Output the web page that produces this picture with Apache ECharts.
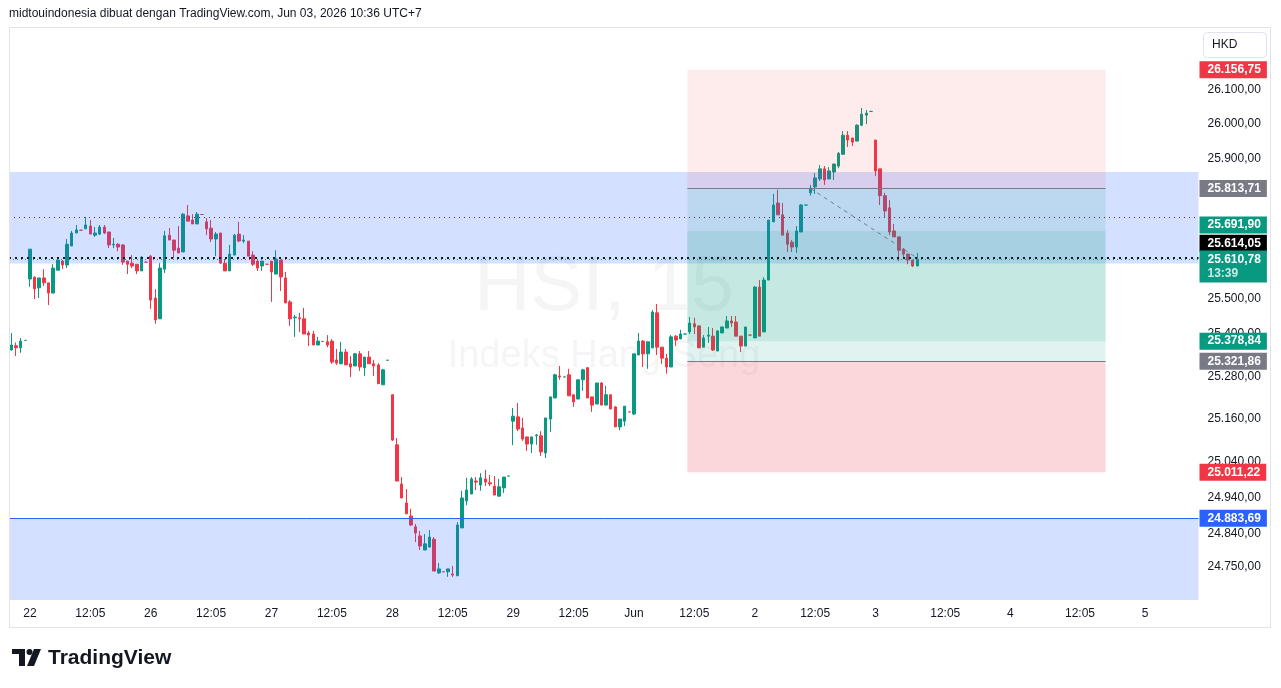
<!DOCTYPE html>
<html>
<head>
<meta charset="utf-8">
<title>HSI, 15</title>
<script src="https://cdn.jsdelivr.net/npm/echarts@6/dist/echarts.min.js"></script>
<style>
  html, body { margin: 0; padding: 0; background: #fff; }
  #chart { width: 1281px; height: 688px; }
</style>
</head>
<body>
<div id="chart"></div>
<script>
// 15 minute candles, [open, close, low, high]
const may21 = [
  [25354, 25368, 25352, 25402], [25366, 25360, 25337, 25375], [25360, 25379, 25346, 25388], [25381, 25381, 25381, 25381]
];
const may22 = [
  [25555, 25640, 25533, 25640], [25560, 25527, 25498, 25563], [25530, 25558, 25501, 25558], [25558, 25544, 25535, 25583],
  [25544, 25515, 25481, 25544], [25515, 25586, 25515, 25597], [25580, 25609, 25580, 25614], [25606, 25595, 25583, 25609],
  [25595, 25654, 25586, 25669], [25649, 25686, 25649, 25692], [25686, 25695, 25686, 25709], [25694, 25694, 25694, 25694],
  [25698, 25709, 25698, 25732], [25706, 25683, 25683, 25723], [25680, 25686, 25675, 25703], [25683, 25703, 25680, 25709],
  [25703, 25686, 25683, 25709], [25689, 25652, 25643, 25689], [25652, 25654, 25643, 25672], [25654, 25646, 25634, 25657],
  [25652, 25603, 25595, 25654], [25606, 25597, 25569, 25606], [25600, 25592, 25586, 25623], [25597, 25578, 25569, 25597],
  [25578, 25617, 25578, 25620], [25603, 25603, 25603, 25603]
];
const may26 = [
  [25620, 25495, 25470, 25623], [25501, 25439, 25428, 25526], [25442, 25586, 25442, 25600], [25583, 25678, 25572, 25692],
  [25680, 25666, 25666, 25700], [25666, 25637, 25614, 25666], [25643, 25629, 25629, 25706], [25632, 25740, 25632, 25743],
  [25735, 25720, 25720, 25766], [25723, 25712, 25712, 25740], [25712, 25740, 25712, 25746], [25739, 25739, 25739, 25739],
  [25718, 25698, 25680, 25729], [25700, 25669, 25660, 25723], [25669, 25683, 25620, 25689], [25686, 25600, 25600, 25686],
  [25600, 25578, 25578, 25612], [25578, 25626, 25578, 25652], [25623, 25680, 25623, 25683], [25683, 25663, 25660, 25718],
  [25663, 25666, 25657, 25680], [25663, 25620, 25620, 25663], [25623, 25597, 25592, 25634], [25606, 25586, 25578, 25609],
  [25592, 25606, 25578, 25606], [25597, 25597, 25597, 25597]
];
const may27 = [
  [25606, 25575, 25490, 25606], [25569, 25612, 25569, 25637], [25609, 25561, 25521, 25609], [25558, 25487, 25487, 25575],
  [25490, 25442, 25422, 25495], [25445, 25447, 25391, 25453], [25445, 25442, 25405, 25459], [25442, 25399, 25399, 25473],
  [25402, 25396, 25365, 25408], [25399, 25368, 25368, 25408], [25368, 25379, 25368, 25391], [25378, 25378, 25378, 25378],
  [25377, 25368, 25362, 25396], [25379, 25320, 25315, 25385], [25326, 25317, 25312, 25357], [25315, 25348, 25315, 25377],
  [25348, 25312, 25312, 25357], [25315, 25306, 25278, 25337], [25309, 25343, 25309, 25346], [25343, 25306, 25295, 25351],
  [25304, 25334, 25281, 25334], [25334, 25315, 25315, 25351], [25315, 25309, 25281, 25326], [25312, 25259, 25259, 25317],
  [25256, 25298, 25256, 25301], [25325, 25325, 25325, 25325]
];
const may28 = [
  [25228, 25101, 25099, 25228], [25088, 24987, 24987, 25107], [24979, 24940, 24940, 24998], [24926, 24896, 24896, 24965],
  [24890, 24865, 24862, 24910], [24860, 24843, 24818, 24868], [24835, 24807, 24796, 24849], [24796, 24813, 24796, 24840],
  [24804, 24832, 24804, 24851], [24826, 24738, 24738, 24832], [24733, 24744, 24730, 24760], [24736, 24736, 24736, 24736],
  [24736, 24744, 24722, 24744], [24730, 24727, 24722, 24752], [24725, 24865, 24725, 24873], [24857, 24940, 24857, 24960],
  [24932, 24962, 24920, 24996], [24951, 24993, 24951, 24998], [24987, 24984, 24962, 24998], [24976, 24996, 24960, 25009],
  [24993, 24984, 24973, 25018], [24982, 24979, 24973, 25004], [24973, 24948, 24948, 25001], [24945, 24971, 24945, 24993],
  [24968, 24998, 24954, 24998], [25001, 25001, 25001, 25001]
];
const may29 = [
  [25154, 25168, 25087, 25191], [25166, 25132, 25126, 25205], [25135, 25104, 25099, 25163], [25110, 25090, 25071, 25110],
  [25090, 25110, 25065, 25110], [25113, 25115, 25088, 25118], [25113, 25068, 25057, 25126], [25065, 25163, 25051, 25163],
  [25160, 25222, 25124, 25222], [25219, 25284, 25219, 25287], [25281, 25278, 25270, 25309], [25278, 25278, 25278, 25278],
  [25284, 25225, 25225, 25301], [25228, 25208, 25194, 25228], [25216, 25270, 25216, 25270], [25270, 25298, 25239, 25301],
  [25304, 25219, 25219, 25306], [25222, 25199, 25180, 25222], [25202, 25261, 25202, 25261], [25261, 25199, 25199, 25264],
  [25199, 25228, 25199, 25253], [25228, 25188, 25188, 25228], [25194, 25138, 25138, 25196], [25138, 25160, 25129, 25160],
  [25154, 25196, 25140, 25196], [25180, 25180, 25180, 25180]
];
const jun1 = [
  [25174, 25343, 25171, 25343], [25340, 25379, 25340, 25402], [25379, 25343, 25306, 25382], [25343, 25377, 25301, 25377],
  [25360, 25461, 25360, 25467], [25459, 25362, 25340, 25484], [25362, 25331, 25315, 25362], [25331, 25306, 25287, 25343],
  [25306, 25391, 25306, 25396], [25393, 25382, 25365, 25396], [25385, 25399, 25385, 25411], [25399, 25399, 25399, 25399],
  [25405, 25430, 25399, 25447], [25428, 25419, 25399, 25445], [25422, 25360, 25360, 25422], [25362, 25388, 25362, 25396],
  [25393, 25396, 25374, 25419], [25393, 25354, 25351, 25416], [25351, 25408, 25351, 25408], [25402, 25419, 25402, 25419],
  [25416, 25436, 25416, 25450], [25436, 25430, 25419, 25450], [25433, 25393, 25393, 25450], [25393, 25365, 25348, 25393],
  [25365, 25419, 25365, 25419], [25396, 25396, 25396, 25396]
];
const jun2 = [
  [25388, 25532, 25388, 25535], [25532, 25393, 25393, 25552], [25405, 25552, 25405, 25560], [25552, 25723, 25552, 25723],
  [25718, 25766, 25718, 25798], [25772, 25738, 25738, 25810], [25738, 25680, 25680, 25772], [25686, 25654, 25632, 25695],
  [25660, 25646, 25632, 25666], [25646, 25692, 25629, 25706], [25689, 25766, 25689, 25769], [25766, 25766, 25766, 25766],
  [25801, 25815, 25793, 25824], [25818, 25844, 25798, 25858], [25841, 25870, 25835, 25881], [25870, 25838, 25824, 25878],
  [25841, 25864, 25841, 25875], [25861, 25884, 25838, 25884], [25878, 25915, 25872, 25918], [25912, 25967, 25910, 25979],
  [25967, 25953, 25933, 25979], [25959, 25947, 25936, 25959], [25950, 25996, 25950, 25999], [25996, 26028, 25993, 26046],
  [26025, 26031, 25999, 26040], [26036, 26036, 26036, 26036]
];
const jun3 = [
  [25953, 25864, 25849, 25953], [25870, 25793, 25766, 25870], [25793, 25749, 25729, 25801], [25758, 25689, 25680, 25781],
  [25692, 25675, 25675, 25712], [25675, 25637, 25606, 25675], [25640, 25626, 25617, 25643], [25626, 25609, 25597, 25626],
  [25609, 25592, 25589, 25609], [25592, 25610.78, 25592, 25629]
];

// time scale: one slot per 15 minute bar, future slots are empty
const dayLabels = ['', '22', '26', '27', '28', '29', 'Jun', '2', '3', '4', '5'];
const daySlots = [4, 26, 26, 26, 26, 26, 26, 26, 29, 29, 12];
const noonSlots = [-1, 13, 13, 13, 13, 13, 13, 13, 15, 15, -1];
const noonLabel = '12:05';

const yTicks = [26100, 26000, 25900, 25500, 25400, 25280, 25160, 25040, 24940, 24840, 24750];

// drawings
const zoneHigh = 25861, zoneLow = 25599;
const supportLevel = 24883.69;
const shortEntry = 25813.71, shortStop = 26156.75, shortTarget = 25378.84;
const longEntry = 25321.86, longStop = 25011.22, longTarget = 25691.90;
const lastPrice = 25610.78, refPrice = 25614.05, prevLevel = 25731;
const toolFrom = 145.5, toolTo = 235.5;
const trendFrom = [172, 25813.71], trendTo = [195, 25614.05];
const countdown = '13:39';

const candles = [].concat(may21, may22, may26, may27, may28, may29, jun1, jun2, jun3);

const categories = [];
const timeLabels = {};
dayLabels.forEach((d, di) => {
  for (let s = 0; s < daySlots[di]; s++) {
    const key = di + ':' + s;
    categories.push(key);
    if (s === 0 && d) timeLabels[key] = d;
    if (s === noonSlots[di]) timeLabels[key] = noonLabel;
  }
});

function fmt(v) {
  const parts = v.toFixed(2).split('.');
  return parts[0].replace(/\B(?=(\d{3})+(?!\d))/g, '.') + ',' + parts[1];
}

const FONT = 'Liberation Sans, Arial, sans-serif';
const UP = '#089981', DOWN = '#F23645', GRAY = '#787B86';

function badge(value, color, shift) {
  return {
    show: true,
    position: 'end',
    distance: 1,
    offset: [0, shift || 0],
    formatter: fmt(value),
    backgroundColor: color,
    color: '#fff',
    fontFamily: FONT,
    fontSize: 12,
    fontWeight: 'bold',
    lineHeight: 13,
    padding: [2, 6, 2, 8]
  };
}
// level that only carries a price label, the line itself stays invisible
const noLine = { color: 'rgba(0,0,0,0)', width: 1, type: 'solid' };

const chart = echarts.init(document.getElementById('chart'));

const option = {
  animation: false,
  title: {
    text: 'midtouindonesia dibuat dengan TradingView.com, Jun 03, 2026 10:36 UTC+7',
    left: 9,
    top: 8,
    padding: 0,
    textStyle: { fontFamily: FONT, fontSize: 12, fontWeight: 'normal', color: '#131722' }
  },
  grid: { left: 9, right: 82.5, top: 28, bottom: 88 },
  xAxis: [
    {
      type: 'category',
      data: categories,
      boundaryGap: true,
      axisLine: { show: false },
      axisTick: { show: false },
      splitLine: { show: false },
      axisLabel: {
        interval: 0,
        margin: 8,
        color: '#131722',
        fontFamily: FONT,
        fontSize: 12,
        formatter: (v) => timeLabels[v] || ''
      }
    },
    { type: 'value', min: -0.5, max: categories.length - 0.5, show: false }
  ],
  yAxis: {
    type: 'log',
    logBase: 10,
    min: 24658.5,
    max: 26278.6,
    position: 'right',
    axisLine: { show: false },
    axisTick: { show: false },
    splitLine: { show: false },
    axisLabel: {
      customValues: yTicks,
      margin: 9,
      color: '#131722',
      fontFamily: FONT,
      fontSize: 12,
      formatter: (v) => fmt(v)
    }
  },
  graphic: [
    {
      type: 'text', x: 604, y: 288, z: 0, silent: true,
      style: { text: 'HSI, 15', fill: 'rgba(19,23,34,0.045)', font: '78px ' + FONT, textAlign: 'center', textVerticalAlign: 'middle' }
    },
    {
      type: 'text', x: 604, y: 357, z: 0, silent: true,
      style: { text: 'Indeks Hang Seng', fill: 'rgba(19,23,34,0.045)', font: '38px ' + FONT, textAlign: 'center', textVerticalAlign: 'middle' }
    },
    {
      type: 'rect', z: 20, silent: true,
      shape: { x: 9.5, y: 27.5, width: 1261, height: 600 },
      style: { fill: 'none', stroke: '#E0E3EB', lineWidth: 1 }
    },
    {
      type: 'rect', z: 20, silent: true,
      shape: { x: 1203.5, y: 32.5, width: 63, height: 25, r: 4 },
      style: { fill: '#fff', stroke: '#E0E3EB', lineWidth: 1 }
    },
    {
      type: 'text', x: 1212, y: 45, z: 21, silent: true,
      style: { text: 'HKD', fill: '#131722', font: '12px ' + FONT, textVerticalAlign: 'middle' }
    },
    // TradingView logo
    { type: 'rect', z: 20, shape: { x: 12, y: 649, width: 13, height: 5 }, style: { fill: '#131722' } },
    { type: 'rect', z: 20, shape: { x: 19, y: 649, width: 6, height: 17 }, style: { fill: '#131722' } },
    { type: 'circle', z: 20, shape: { cx: 29.5, cy: 652, r: 3 }, style: { fill: '#131722' } },
    { type: 'polygon', z: 20, shape: { points: [[34, 649], [41, 649], [34, 666], [27, 666]] }, style: { fill: '#131722' } },
    {
      type: 'text', x: 48, y: 658, z: 20,
      style: { text: 'TradingView', fill: '#131722', font: 'bold 21px ' + FONT, textVerticalAlign: 'middle' }
    }
  ],
  series: [
    {
      type: 'candlestick',
      data: candles,
      barWidth: 3,
      z: 2,
      itemStyle: { color: UP, color0: DOWN, borderColor: UP, borderColor0: DOWN, borderWidth: 1 }
    },
    {
      type: 'line',
      xAxisIndex: 1,
      data: [],
      clip: false,
      silent: true,
      markArea: {
        silent: true,
        z: 3,
        data: [
          [{ yAxis: zoneHigh, itemStyle: { color: 'rgba(41,98,255,0.2)' } }, { yAxis: zoneLow }],
          [{ yAxis: supportLevel, itemStyle: { color: 'rgba(41,98,255,0.2)' } }, { yAxis: 20000 }],
          [{ xAxis: toolFrom, yAxis: shortEntry, itemStyle: { color: 'rgba(242,54,69,0.1)' } }, { xAxis: toolTo, yAxis: shortStop }],
          [{ xAxis: toolFrom, yAxis: shortEntry, itemStyle: { color: 'rgba(8,153,129,0.12)' } }, { xAxis: toolTo, yAxis: shortTarget }],
          [{ xAxis: toolFrom, yAxis: longEntry, itemStyle: { color: 'rgba(8,153,129,0.12)' } }, { xAxis: toolTo, yAxis: longTarget }],
          [{ xAxis: toolFrom, yAxis: longEntry, itemStyle: { color: 'rgba(242,54,69,0.2)' } }, { xAxis: toolTo, yAxis: longStop }]
        ]
      },
      markLine: {
        silent: true,
        symbol: ['none', 'none'],
        label: { show: false },
        data: [
          [{ coord: [toolFrom, shortEntry], lineStyle: { color: GRAY, width: 1, type: 'solid' } }, { coord: [toolTo, shortEntry] }],
          [{ coord: [toolFrom, longEntry], lineStyle: { color: GRAY, width: 1, type: 'solid' } }, { coord: [toolTo, longEntry] }],
          [{ coord: trendFrom, lineStyle: { color: GRAY, width: 1, type: [4, 4] } }, { coord: trendTo }],
          { yAxis: prevLevel, lineStyle: { color: '#5B2A55', width: 1, type: [1, 4] } },
          { yAxis: supportLevel, lineStyle: { color: '#2962FF', width: 1, type: 'solid' }, label: badge(supportLevel, '#2962FF') },
          { yAxis: refPrice, lineStyle: { color: '#131722', width: 2, type: [2, 4] }, label: badge(refPrice, '#000000', -15) },
          {
            yAxis: lastPrice,
            lineStyle: { color: UP, width: 1, type: [1, 3] },
            label: Object.assign(badge(lastPrice, UP, 7), {
              formatter: '{a|' + fmt(lastPrice) + '}\n{b|' + countdown + '}',
              lineHeight: 14,
              rich: {
                a: { color: '#fff', fontFamily: FONT, fontSize: 12, fontWeight: 'bold', lineHeight: 14 },
                b: { color: 'rgba(255,255,255,0.8)', fontFamily: FONT, fontSize: 12, lineHeight: 14 }
              }
            })
          },
          { yAxis: shortStop, lineStyle: noLine, label: badge(shortStop, DOWN) },
          { yAxis: shortEntry, lineStyle: noLine, label: badge(shortEntry, GRAY) },
          { yAxis: longTarget, lineStyle: noLine, label: badge(longTarget, UP, -6) },
          { yAxis: shortTarget, lineStyle: noLine, label: badge(shortTarget, UP) },
          { yAxis: longEntry, lineStyle: noLine, label: badge(longEntry, GRAY) },
          { yAxis: longStop, lineStyle: noLine, label: badge(longStop, DOWN) }
        ]
      }
    }
  ]
};

chart.setOption(option);
</script>
</body>
</html>
